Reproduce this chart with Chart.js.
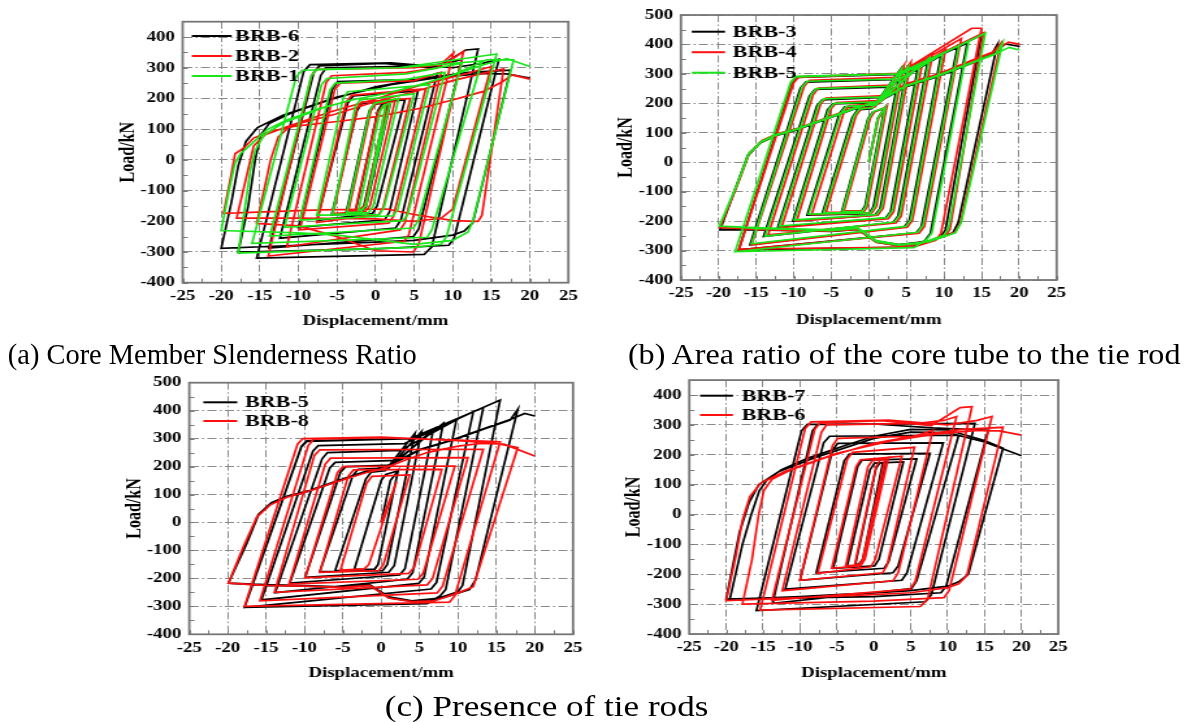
<!DOCTYPE html>
<html><head><meta charset="utf-8">
<script src="https://cdn.jsdelivr.net/npm/chart.js@4.4.1/dist/chart.umd.min.js"></script>
<style>
html,body{margin:0;padding:0;background:#fff;width:1190px;height:722px;overflow:hidden}
#stage{position:absolute;left:0;top:0;width:915.4px;height:722px;transform:scaleX(1.3);transform-origin:0 0}
canvas{position:absolute}
.cap{position:absolute;font-family:"Liberation Serif","Times New Roman",serif;font-size:30px;color:#000;white-space:nowrap;line-height:30px;transform-origin:0 0}
</style></head><body>
<div id="stage">
<canvas id="ca" width="400" height="340" style="left:60px;top:0px"></canvas>
<canvas id="cb" width="380" height="340" style="left:460px;top:0px"></canvas>
<canvas id="cc" width="400" height="330" style="left:60px;top:362px"></canvas>
<canvas id="cd" width="380" height="330" style="left:460px;top:362px"></canvas>
<div class="cap" style="left:6.2px;top:339px;transform:scaleX(0.729)">(a) Core Member Slenderness Ratio</div>
<div class="cap" style="left:483px;top:339px;transform:scaleX(0.823)">(b) Area ratio of the core tube to the tie rod</div>
<div class="cap" style="left:296.2px;top:691px;transform:scaleX(0.9)">(c) Presence of tie rods</div>
</div>
<script>
const xTicks = [-25,-20,-15,-10,-5,0,5,10,15,20,25];
const yTicks450 = [-400,-300,-200,-100,0,100,200,300,400];
const yTicks500 = [-400,-300,-200,-100,0,100,200,300,400,500];

const brb6 = [
[0,0],[1.5,185],
[-1.4,-150],[-2.0,-168],[-2.6,-170],
[0.3,160],[0.8,180],[1.6,188],
[-1.5,-150],[-2.1,-170],[-3.8,-172],
[-0.8,160],[-0.2,180],[2.0,192],
[-1.2,-150],[-1.8,-172],[-5.7,-180],
[-2.4,160],[-1.8,183],[3.8,195],
[0.2,-150],[-0.4,-175],[-7.6,-197],
[-3.6,185],[-2.9,208],[5.5,225],
[1.8,-170],[1.2,-195],[-10.0,-220],
[-5.6,230],[-4.9,255],[5.5,262],[8.0,282],
[3.3,-195],[2.6,-222],[-12.4,-255],
[-7.1,275],[-6.4,300],[6.0,305],[9.5,315],[11.2,328],
[5.6,-225],[4.9,-250],[-13.8,-287],
[-8.0,285],[-7.3,306],[1,314],[7.8,298],[11.7,358],[13.3,361],
[7.3,-283],[6.3,-308],[-15.4,-320],
[-9.3,288],[-8.5,310],[2,316],[10,300],[14,315],[16,328],
[10.2,-255],[9.5,-278],[0,-290],[-17.8,-300],
[-16.5,-150],[-15.6,0],[-14.9,80],[-13.8,118],[-11,152],[-6,195],[0,238],[6,265],[12,285],[17.5,292],
[12.6,-205],[11.5,-232],[10,-245],[5,-262],[0,-268],[-10,-278],[-20,-288],
[-18.7,-140],[-17.8,-20],[-16.8,60],[-15.3,105],[-12,145],[-5,205],[2,245],[8,268],[14,282],[17,280],[20,266]
];

const brb7 = [
[0,0],[1.2,170],
[-1.5,-150],[-2.0,-165],[-2.5,-168],
[0.3,155],[0.8,172],[1.6,176],
[-1.4,-150],[-2.0,-170],[-3.6,-172],
[-0.5,150],[0.1,172],[4.0,176],
[0.7,-150],[0.1,-172],[-5.5,-180],
[-2.2,160],[-1.6,182],[5.8,186],
[2.0,-158],[1.4,-180],[-7.8,-195],
[-4.0,180],[-3.3,202],[7.6,205],
[3.3,-172],[2.6,-195],[-10.0,-220],
[-5.6,215],[-4.9,238],[9.4,240],
[4.5,-195],[3.8,-220],[-12.0,-250],
[-6.8,240],[-6.0,262],[11.5,266],
[5.8,-222],[5.1,-248],[-13.7,-297],
[-8.3,280],[-7.6,302],[13.7,305],
[7.8,-268],[7.0,-292],[-15.9,-322],
[-9.8,280],[-9.0,302],[0,303],[8,290],[12.5,285],[15.5,282],
[9.8,-240],[9.1,-262],[0,-275],[-19.5,-283],
[-17.8,-100],[-16.6,0],[-15.5,80],[-14.5,115],[-12.5,150],[-9,188],[-4,230],[0,262],[5,285],[10,283],[15,248],[17.5,222],
[12.8,-200],[11.5,-225],[10,-240],[5,-255],[0,-262],[-5,-268],[-10,-275],[-15,-280],[-20,-283],
[-18.2,-60],[-16.9,40],[-15.6,100],[-13,142],[-8,190],[0,255],[5,276],[10,274],[15,243],[20,197]
];

const brb2 = [
[0,0],[1.4,180],
[-1.4,-150],[-2.0,-160],[-2.6,-162],
[0.3,155],[0.9,175],[1.8,183],
[-1.4,-148],[-2.0,-165],[-3.5,-165],
[-0.6,160],[0.0,182],[2.5,190],
[-0.7,-148],[-1.3,-168],[-5.5,-175],
[-2.4,168],[-1.8,188],[4.5,200],
[1.0,-155],[0.4,-178],[-7.6,-204],
[-3.8,188],[-3.1,210],[6.5,232],
[2.3,-185],[1.7,-206],[-9.8,-228],
[-5.3,228],[-4.6,250],[5,258],[8.5,285],
[3.8,-205],[3.2,-228],[-11.5,-283],
[-6.4,252],[-5.7,274],[4,285],[8,300],[10.1,348],
[4.3,-245],[3.7,-265],[-13.9,-313],
[-8.3,275],[-7.6,295],[5,300],[9,312],[11.4,353],
[5.6,-275],[4.9,-300],[0,-296],[-5,-250],[-10,-215],[-15.4,-207],
[-13.6,0],[-12.6,75],[-11,112],[-6,155],[0,198],[6,245],[12,282],[15,304],
[10,-160],[8.5,-190],[5,-200],[0,-192],[-10,-190],[-18,-190],
[-16.5,-30],[-15.8,45],[-14.3,82],[-11.5,108],[-5,150],[0,190],[5,222],[10,258],[14.5,285],[16.6,296],
[13.8,-180],[13.3,-200],[10.1,-198],[5,-178],[1.5,-160],[-7.2,-163],[-19.7,-174],
[-18.8,-60],[-18.2,20],[-17.1,38],[-15.8,71],[-13.7,92],[-10.6,109],[-5,125],[0.2,141],[5.8,168],[10.1,196],[14,223],[16.5,255],[17.7,277],[20,263]
];

const brb1 = [
[0,0],[1.3,178],
[-1.2,-150],[-1.8,-162],[-2.2,-165],
[0.6,158],[1.1,178],[1.9,185],
[-1.3,-150],[-1.9,-170],[-3.7,-172],
[-0.7,165],[-0.1,185],[3,200],
[-0.3,-150],[-0.9,-172],[-5.6,-178],
[-2.6,175],[-2.0,195],[5,215],
[1.1,-155],[0.5,-178],[-7.6,-180],
[-4.2,200],[-3.6,222],[7,245],
[2.9,-160],[2.3,-182],[-9.8,-196],
[-5.9,228],[-5.2,250],[4,262],[9,285],
[4.2,-175],[3.6,-198],[-11.8,-220],
[-7.0,245],[-6.3,265],[4,280],[11.2,315],
[5.5,-200],[4.9,-222],[-13.7,-248],
[-8.3,275],[-7.6,295],[3,300],[13.8,322],
[7.3,-228],[6.7,-252],[-16,-272],
[-10.3,270],[-9.5,292],[3,300],[15.7,345],
[9.2,-250],[8.5,-275],[5,-285],[-17.8,-304],
[-16.9,-150],[-16.2,-30],[-15.6,30],[-14.5,80],[-12,120],[-7,168],[-3,196],[1.5,217],[5.8,245],[10.1,277],[14.4,326],[17.9,326],
[12.6,-200],[12,-235],[10,-262],[5,-275],[-5,-245],[-10,-238],[-20,-230],
[-19,-100],[-18.2,-10],[-17.5,20],[-16.2,49],[-14.1,98],[-11.5,130],[-7.2,168],[-2.9,196],[1.5,217],[5.8,245],[10.1,277],[14,310],[17,330],[20,304]
];

const brb3 = [
[0,0],[1.2,150],[2.1,183],
[-0.5,-148],[-1.0,-168],[-3.6,-168],
[-0.1,148],[0.5,170],[2.1,183],
[-0.5,-148],[-1.0,-172],[-6.2,-175],
[-2.2,152],[-1.5,178],[0.4,182],[4.2,315],
[0.6,-152],[0.0,-175],[-8.2,-180],
[-3.9,166],[-3.2,188],[0.9,192],[5.1,320],
[1.5,-158],[0.8,-180],[-10.1,-200],
[-5.5,178],[-4.8,198],[1.4,203],[6.6,330],
[2.9,-168],[2.2,-190],[-12.1,-220],
[-6.9,192],[-6.2,212],[1.9,220],[7.9,350],
[3.9,-182],[3.2,-205],[-14.0,-252],
[-7.9,225],[-7.2,247],[2.4,255],[9.6,362],
[5.4,-198],[4.7,-220],[-15.8,-280],
[-9.1,252],[-8.4,272],[2.9,280],[11.8,392],
[7.0,-218],[6.3,-240],[-17.3,-298],
[-10.2,270],[-9.5,290],[3.7,298],[13.1,405],
[8.2,-242],[7.5,-265],[6,-288],[-17.3,-298],
[-10.2,268],[-9.5,288],[3.9,298],[15.0,432],
[10.2,-230],[9.6,-252],[7,-278],[4,-283],[1,-272],[-1.5,-228],[-5,-235],[-10,-232],[-15,-230],[-19.8,-230],
[-17.6,-80],[-16.1,22],[-14.4,66],[-12.4,90],[-9.8,108],[-5.9,144],[-2.0,180],[0.6,198],[2.8,226],[4.9,256],[9.3,292],[13.6,335],[16.3,365],[17.1,399],
[11.9,-205],[11.2,-240],[8,-268],[4,-280],[1,-268],[-1.5,-226],[-5,-233],[-10,-230],[-15,-228],[-19.8,-228],
[-17.6,-78],[-16.1,24],[-14.4,68],[-12.4,92],[-9.8,110],[-5.9,146],[-2.0,182],[0.6,200],[2.8,228],[4.9,258],[9.3,294],[13.6,337],[16.3,366],[18.2,402],[20.1,393]
];

const brb4 = [
[0,0],[1.3,150],[2.4,188],
[-0.2,-150],[-0.7,-165],[-3.3,-165],
[0.2,150],[0.8,172],[2.4,188],
[-0.2,-150],[-0.7,-170],[-5.7,-170],
[-1.7,158],[-1.0,182],[0.8,188],[4.7,330],
[1.0,-150],[0.4,-172],[-7.6,-178],
[-3.3,170],[-2.6,192],[1.3,198],[5.6,340],
[1.9,-156],[1.2,-180],[-9.6,-200],
[-5.0,182],[-4.3,203],[1.8,210],[7.2,345],
[3.3,-168],[2.6,-192],[-11.6,-222],
[-6.4,198],[-5.7,218],[2.3,226],[8.5,368],
[4.3,-183],[3.6,-206],[-13.4,-247],
[-7.4,230],[-6.7,252],[2.8,262],[10.2,382],
[5.8,-198],[5.1,-221],[-15.6,-281],
[-8.6,258],[-7.9,278],[3.3,288],[12.3,420],
[7.4,-218],[6.7,-241],[-17.3,-298],
[-10.0,270],[-9.3,290],[4.0,302],[13.7,455],[15.0,455],
[9.6,-242],[8.9,-265],[6,-288],[-17.3,-295],
[-10.1,268],[-9.4,288],[4.2,302],[15.3,440],
[10.8,-228],[10.2,-250],[7,-278],[4,-284],[1,-272],[-1.5,-228],[-5,-234],[-10,-232],[-15,-228],[-19.8,-222],
[-17.4,-72],[-15.9,30],[-14.2,72],[-12.2,95],[-9.6,112],[-5.7,148],[-1.8,185],[0.8,204],[3,235],[5.1,265],[9.5,300],[13.8,345],[16.5,372],[17.6,405],
[12.2,-205],[11.5,-238],[8,-270],[4,-282],[1,-270],[-1.5,-226],[-5,-232],[-10,-230],[-15,-226],[-19.8,-222],
[-17.4,-70],[-15.9,32],[-14.2,74],[-12.2,97],[-9.6,114],[-5.7,150],[-1.8,187],[0.8,206],[3,237],[5.1,267],[9.5,302],[13.8,347],[16.5,374],[18.6,408],[20.1,400]
];

const brb5 = [
[0,0],[1.2,150],[2.2,185],
[-0.4,-150],[-0.9,-168],[-3.5,-168],
[0.0,150],[0.6,172],[2.2,185],
[-0.4,-150],[-0.9,-170],[-6.0,-172],
[-2.0,155],[-1.3,180],[0.5,185],[4.4,319],
[0.8,-150],[0.2,-172],[-8.0,-176],
[-3.7,168],[-3.0,190],[1.0,195],[5.25,325],
[1.7,-155],[1.0,-178],[-9.9,-196],
[-5.3,180],[-4.6,200],[1.5,205],[6.8,333],
[3.1,-165],[2.4,-188],[-11.9,-217],
[-6.7,195],[-6.0,215],[2.0,222],[8.1,355],
[4.1,-180],[3.4,-203],[-13.8,-251],
[-7.7,228],[-7.0,250],[2.5,258],[9.8,367],
[5.6,-195],[4.9,-218],[-15.6,-277],
[-8.9,255],[-8.2,275],[3.0,282],[12.0,396],
[7.2,-215],[6.5,-238],[-17.8,-304],
[-10.4,272],[-9.7,292],[3.8,300],[13.3,411],
[8.4,-240],[7.7,-262],[6,-290],[-17.8,-304],
[-10.4,270],[-9.7,290],[4.0,300],[15.5,438],
[10.6,-225],[10.0,-248],[7,-275],[4,-282],[1,-270],[-1.5,-225],[-5,-232],[-10,-228],[-15,-225],[-19.9,-217],
[-17.5,-74],[-16,27],[-14.3,69],[-12.3,92],[-9.7,110],[-5.8,146],[-1.9,182],[0.7,200],[2.9,229],[5,259],[9.4,295],[13.7,337],[16.8,366],[17.8,405],
[12.3,-205],[11.5,-240],[8,-270],[4,-280],[1,-266],[-1.5,-222],[-5,-230],[-10,-226],[-15,-222],[-19.9,-217],
[-17.5,-72],[-16,29],[-14.3,71],[-12.3,94],[-9.7,112],[-5.8,148],[-1.9,184],[0.7,202],[2.9,231],[5,261],[9.4,297],[13.7,339],[16.8,368],[18.7,390],[20,381]
];

const brb8 = [
[0,0],[2.0,146],
[-1.6,-150],[-2.2,-166],[-5.3,-170],
[-1.9,140],[-1.2,165],[3.7,170],
[0.3,-150],[-0.3,-172],[-8.0,-178],
[-4.3,165],[-3.6,188],[7.9,190],
[4.3,-160],[3.6,-182],[-9.9,-198],
[-5.7,178],[-5.0,200],[9.6,202],
[5.5,-180],[4.8,-203],[-12.0,-220],
[-7.3,208],[-6.6,230],[11.3,232],
[6.7,-200],[6.0,-223],[-13.9,-250],
[-8.7,240],[-8.0,260],[13.3,262],
[8.0,-228],[7.3,-252],[-15.8,-280],
[-9.5,275],[-8.8,298],[0,303],[10,295],[15.5,289],
[9.6,-262],[8.9,-285],[6,-287],[-17.8,-300],
[-10.9,280],[-10.2,300],[0,305],[10,293],[15,283],[17.8,268],
[12.0,-230],[10.2,-250],[7,-280],[4,-283],[1,-270],[-1.5,-225],[-5,-232],[-10,-228],[-15,-225],[-19.9,-217],
[-18,-90],[-16.2,20],[-14.5,62],[-12.3,90],[-9.7,110],[-5.8,146],[-2,178],[0,190],[3,222],[6,250],[10,273],[13,283],[16,280],[20,238]
];

const BLACK = '#000000', RED = '#ff1010', GREEN = '#19e619';
const FONT = '"Liberation Serif","Times New Roman",serif';
Chart.defaults.font.family = FONT;

function toXY(a){ return a.map(p => ({x:p[0], y:p[1]})); }

function makeDeco(cfg){
  return {
    id:'deco',
    afterDraw(chart){
      const ctx = chart.ctx, a = chart.chartArea, xs = chart.scales.x, ys = chart.scales.y;
      ctx.save();
      ctx.strokeStyle = '#7a7a7a'; ctx.lineWidth = 1;
      ctx.beginPath();
      for (let v = -25; v <= 25.01; v += 2.5){
        const px = Math.round(xs.getPixelForValue(v)) + 0.5;
        ctx.moveTo(px, a.bottom); ctx.lineTo(px, a.bottom - 4);
      }
      for (let v = -400; v < cfg.yMax; v += 50){
        const py = Math.round(ys.getPixelForValue(v)) + 0.5;
        ctx.moveTo(a.left, py); ctx.lineTo(a.left + 4, py);
      }
      ctx.stroke();
      ctx.lineWidth = 1.8; ctx.strokeStyle = '#767676';
      ctx.strokeRect(a.left, a.top, a.right - a.left, a.bottom - a.top);
      ctx.fillStyle = '#000';
      ctx.textAlign = 'center'; ctx.textBaseline = 'middle';
      ctx.font = 'bold 14.5px ' + FONT;
      ctx.fillText('Displacement/mm', (a.left + a.right) / 2, a.bottom + cfg.xTitleOff);
      ctx.save();
      ctx.font = 'bold 16px ' + FONT;
      ctx.translate(a.left - 42, (a.top + a.bottom) / 2);
      ctx.rotate(-Math.PI / 2);
      ctx.fillText('Load/kN', 0, 0);
      ctx.restore();
      const ds = chart.data.datasets.slice().reverse();
      ctx.textAlign = 'left';
      ctx.font = 'bold 17px ' + FONT;
      ds.forEach((d, i) => {
        const y = a.top + cfg.legY0 + i * cfg.legDy;
        ctx.strokeStyle = d.borderColor; ctx.lineWidth = 2;
        ctx.beginPath(); ctx.moveTo(a.left + cfg.legX0, y); ctx.lineTo(a.left + cfg.legX1, y); ctx.stroke();
        ctx.fillText(d.label, a.left + cfg.legTx, y + 0.5);
      });
      ctx.restore();
    }
  };
}

function makePanel(id, series, yMax, yTicks, g){
  const datasets = series.slice().reverse().map(s => ({
    label: s.label, data: toXY(s.data), borderColor: s.color, backgroundColor: s.color,
    borderWidth: 1.7, pointRadius: 0, pointHoverRadius: 0, showLine: true, fill: false, tension: 0
  }));
  const tickFont = {size: 14.5, weight: 'bold', family: FONT};
  new Chart(document.getElementById(id), {
    type: 'scatter',
    data: {datasets},
    options: {
      responsive: false, animation: false, devicePixelRatio: 1,
      layout: {padding: {left: 0, top: g.top, right: g.right, bottom: 0}},
      plugins: {legend: {display: false}, tooltip: {enabled: false}},
      scales: {
        x: {
          type: 'linear', min: -25, max: 25,
          afterBuildTicks: ax => { ax.ticks = xTicks.map(v => ({value: v})); },
          afterFit: s => { s.height = g.xh; },
          ticks: {font: tickFont, color: '#000', padding: 5, maxRotation: 0, autoSkip: false},
          grid: {color: '#8a8a8a', lineWidth: 1, drawTicks: false},
          border: {display: false, dash: [7, 2.5, 1.5, 2.5]}
        },
        y: {
          type: 'linear', min: -400, max: yMax,
          afterBuildTicks: ax => { ax.ticks = yTicks.map(v => ({value: v})); },
          afterFit: s => { s.width = g.yw; },
          ticks: {font: tickFont, color: '#000', padding: 6, autoSkip: false},
          grid: {color: '#8a8a8a', lineWidth: 1, drawTicks: false},
          border: {display: false, dash: [7, 2.5, 1.5, 2.5]}
        }
      }
    },
    plugins: [makeDeco({yMax, xTitleOff: g.xto, legX0: g.lx0, legX1: g.lx1, legTx: g.ltx, legY0: g.ly0, legDy: g.ldy})]
  });
}

makePanel('ca', [
  {label: 'BRB-6', data: brb6, color: BLACK},
  {label: 'BRB-2', data: brb2, color: RED},
  {label: 'BRB-1', data: brb1, color: GREEN}
], 450, yTicks450, {top: 21.7, right: 22.8, yw: 80.5, xh: 57.3, xto: 39, lx0: 7, lx1: 37.7, ltx: 40.3, ly0: 14.3, ldy: 20});

makePanel('cb', [
  {label: 'BRB-3', data: brb3, color: BLACK},
  {label: 'BRB-4', data: brb4, color: RED},
  {label: 'BRB-5', data: brb5, color: GREEN}
], 500, yTicks500, {top: 15, right: 27.2, yw: 63.8, xh: 60, xto: 40, lx0: 8.3, lx1: 33.9, ltx: 39.8, ly0: 16.7, ldy: 20.5});

makePanel('cc', [
  {label: 'BRB-5', data: brb5, color: BLACK},
  {label: 'BRB-8', data: brb8, color: RED}
], 500, yTicks500, {top: 20.7, right: 19.2, yw: 85.6, xh: 57.7, xto: 38.5, lx0: 10.8, lx1: 36.9, ltx: 42.9, ly0: 19.6, ldy: 18.7});

makePanel('cd', [
  {label: 'BRB-7', data: brb7, color: BLACK},
  {label: 'BRB-6', data: brb6, color: RED}
], 450, yTicks450, {top: 18.1, right: 25.9, yw: 70.2, xh: 58, xto: 39, lx0: 8.3, lx1: 33.6, ltx: 40.3, ly0: 15.6, ldy: 19.3});
</script>
</body></html>
